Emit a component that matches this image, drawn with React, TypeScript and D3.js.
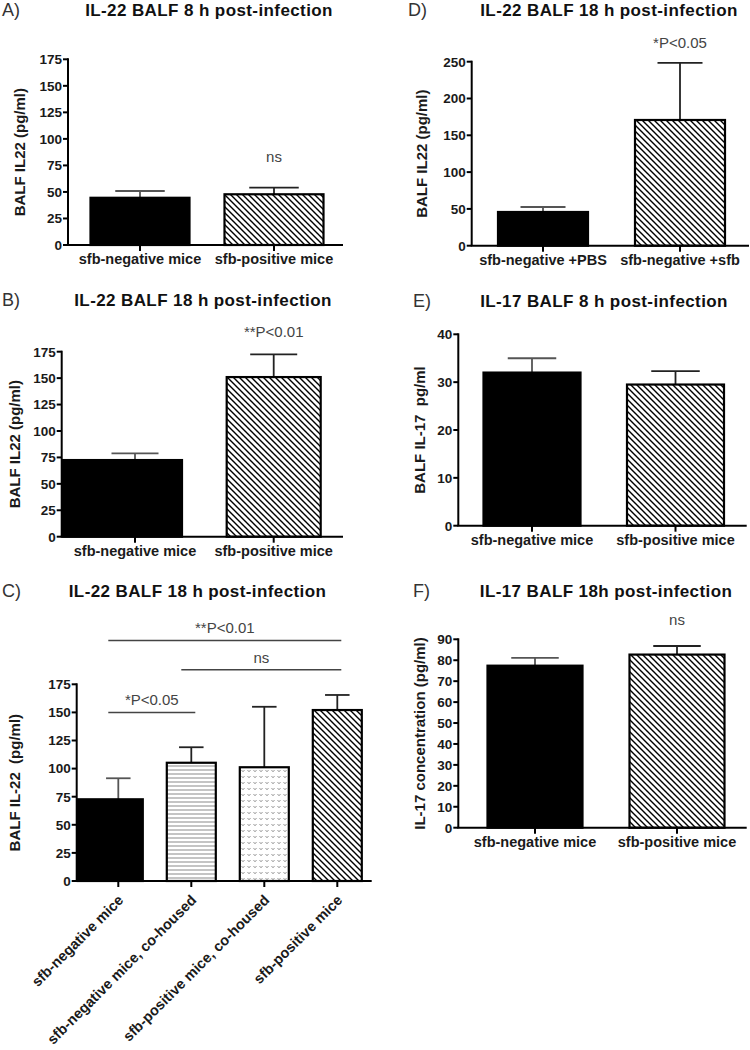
import React from "react";
import * as d3 from "d3";

const FONT = "'Liberation Sans', Arial, Helvetica, sans-serif";

// ---------- DATA ----------
const aCategories = ["sfb-negative mice", "sfb-positive mice"];
const aMeans = [44.5, 47.8];
const aSems = [6.4, 6.2];
const aFills = ["solid", "diag"];
const aTicks = [0, 25, 50, 75, 100, 125, 150, 175];
const aNotes = [{ from: 1, to: 1, value: 78, text: "ns" }];

const bCategories = ["sfb-negative mice", "sfb-positive mice"];
const bMeans = [72.5, 151];
const bSems = [6.4, 21.5];
const bFills = ["solid", "diag"];
const bTicks = [0, 25, 50, 75, 100, 125, 150, 175];
const bNotes = [{ from: 1, to: 1, value: 189, text: "**P<0.01" }];

const cCategories = [
  "sfb-negative mice",
  "sfb-negative mice, co-housed",
  "sfb-positive mice, co-housed",
  "sfb-positive mice",
];
const cMeans = [72.7, 105.2, 101.2, 152.1];
const cSems = [18.7, 13.8, 53.8, 13.4];
const cFills = ["solid", "hlines", "dots", "diag"];
const cTicks = [0, 25, 50, 75, 100, 125, 150, 175];
const cNotes = [
  { from: 0, to: 3, value: 214, text: "**P<0.01" },
  { from: 1, to: 3, value: 188, text: "ns" },
  { from: 0, to: 1, value: 150, text: "*P<0.05" },
];

const dCategories = ["sfb-negative +PBS", "sfb-negative +sfb"];
const dMeans = [45.8, 170.8];
const dSems = [6.8, 77.5];
const dFills = ["solid", "diag"];
const dTicks = [0, 50, 100, 150, 200, 250];
const dNotes = [{ from: 1, to: 1, value: 268, text: "*P<0.05" }];

const eCategories = ["sfb-negative mice", "sfb-positive mice"];
const eMeans = [32.0, 29.5];
const eSems = [3.0, 2.8];
const eFills = ["solid", "diag"];
const eTicks = [0, 10, 20, 30, 40];
const eNotes: any[] = [];

const fCategories = ["sfb-negative mice", "sfb-positive mice"];
const fMeans = [77.4, 82.7];
const fSems = [3.7, 4.1];
const fFills = ["solid", "diag"];
const fTicks = [0, 10, 20, 30, 40, 50, 60, 70, 80, 90];
const fNotes = [{ from: 1, to: 1, value: 97, text: "ns" }];

// ---------- LAYOUT ----------
const panels = [
  {
    tag: "A)", title: "IL-22 BALF 8 h post-infection", yLabel: "BALF IL22 (pg/ml)",
    categories: aCategories, means: aMeans, sems: aSems, fills: aFills, ticks: aTicks, notes: aNotes,
    frame: { axisX: 68, axisEnd: 343, top: 59.3, bottom: 245, c0: 140, c1: 274, bw: 99, firstToAxis: false,
      tagX: 2, titleX: 209, headerY: 16, yLabelX: 20, rotate: false },
  },
  {
    tag: "B)", title: "IL-22 BALF 18 h post-infection", yLabel: "BALF IL22 (pg/ml)",
    categories: bCategories, means: bMeans, sems: bSems, fills: bFills, ticks: bTicks, notes: bNotes,
    frame: { axisX: 61.7, axisEnd: 343, top: 351.7, bottom: 536.7, c0: 135, c1: 273.7, bw: 94, firstToAxis: true,
      tagX: 2, titleX: 203, headerY: 306, yLabelX: 15, rotate: false },
  },
  {
    tag: "C)", title: "IL-22 BALF 18 h post-infection", yLabel: "BALF IL-22  (pg/ml)",
    categories: cCategories, means: cMeans, sems: cSems, fills: cFills, ticks: cTicks, notes: cNotes,
    frame: { axisX: 76.7, axisEnd: 371.7, top: 684.3, bottom: 881, c0: 118.3, c1: 337.3, bw: 49, firstToAxis: true,
      tagX: 2, titleX: 197.5, headerY: 597, yLabelX: 15, rotate: true },
  },
  {
    tag: "D)", title: "IL-22 BALF 18 h post-infection", yLabel: "BALF IL22 (pg/ml)",
    categories: dCategories, means: dMeans, sems: dSems, fills: dFills, ticks: dTicks, notes: dNotes,
    frame: { axisX: 471.7, axisEnd: 749, top: 61.7, bottom: 245.7, c0: 543, c1: 680, bw: 90, firstToAxis: false,
      tagX: 408, titleX: 609, headerY: 16, yLabelX: 421.7, rotate: false },
  },
  {
    tag: "E)", title: "IL-17 BALF 8 h post-infection", yLabel: "BALF IL-17  pg/ml",
    categories: eCategories, means: eMeans, sems: eSems, fills: eFills, ticks: eTicks, notes: eNotes,
    frame: { axisX: 458.3, axisEnd: 746.7, top: 334.3, bottom: 525.7, c0: 532, c1: 675.5, bw: 97, firstToAxis: false,
      tagX: 413, titleX: 604, headerY: 307, yLabelX: 420, rotate: false },
  },
  {
    tag: "F)", title: "IL-17 BALF 18h post-infection", yLabel: "IL-17 concentration (pg/ml)",
    categories: fCategories, means: fMeans, sems: fSems, fills: fFills, ticks: fTicks, notes: fNotes,
    frame: { axisX: 458.3, axisEnd: 746.7, top: 639.3, bottom: 827.7, c0: 535, c1: 677, bw: 95, firstToAxis: false,
      tagX: 413, titleX: 606, headerY: 597, yLabelX: 420, rotate: false },
  },
];

const fillFor = (f: string) =>
  f === "solid" ? "#000" : f === "diag" ? "url(#pDiag)" : f === "hlines" ? "url(#pH)" : "url(#pDots)";

function Panel({ p }: { p: any }) {
  const fr = p.frame;
  const yMax = p.ticks[p.ticks.length - 1];
  const y = d3.scaleLinear().domain([0, yMax]).range([fr.bottom, fr.top]);
  const x = d3.scalePoint<string>().domain(p.categories).range([fr.c0, fr.c1]);
  const tickColor = "#1a1a1a";
  return (
    <g fontFamily={FONT}>
      <text x={fr.tagX} y={fr.headerY} fontSize={18} fill="#333">{p.tag}</text>
      <text x={fr.titleX} y={fr.headerY} fontSize={17} fontWeight="bold" textAnchor="middle" letterSpacing={0.4} fill="#111">
        {p.title}
      </text>
      <text
        transform={`translate(${fr.yLabelX},${(fr.top + fr.bottom) / 2}) rotate(-90)`}
        textAnchor="middle" dy="0.35em" fontSize={15} fontWeight="bold" fill={tickColor}
        style={{ whiteSpace: "pre" }}
      >
        {p.yLabel}
      </text>
      {/* bars */}
      {p.categories.map((c: string, i: number) => {
        const cx = x(c)!;
        const left = i === 0 && fr.firstToAxis ? fr.axisX + 1 : cx - fr.bw / 2;
        const right = cx + fr.bw / 2;
        const top = y(p.means[i]);
        const errTop = y(p.means[i] + p.sems[i]);
        const cap = fr.bw / 4;
        const ec = p.fills[i] === "solid" ? "#555" : "#222";
        return (
          <g key={c}>
            <line x1={cx} x2={cx} y1={top} y2={errTop} stroke={ec} strokeWidth={1.8} />
            <line x1={cx - cap} x2={cx + cap} y1={errTop} y2={errTop} stroke={ec} strokeWidth={1.8} />
            <rect x={left} y={top} width={right - left} height={fr.bottom - top}
              fill={fillFor(p.fills[i])} stroke="#000" strokeWidth={2.2} />
          </g>
        );
      })}
      {/* y axis */}
      <line x1={fr.axisX} x2={fr.axisX} y1={fr.top - 1} y2={fr.bottom} stroke="#000" strokeWidth={2} />
      {p.ticks.map((t: number) => (
        <g key={t}>
          <line x1={fr.axisX - 5} x2={fr.axisX} y1={y(t)} y2={y(t)} stroke="#000" strokeWidth={2} />
          <text x={fr.axisX - 6} y={y(t)} dy="0.36em" textAnchor="end" fontSize={13.5} fontWeight="bold" fill={tickColor}>
            {t}
          </text>
        </g>
      ))}
      {/* x axis */}
      <line x1={fr.axisX - 1} x2={fr.axisEnd} y1={fr.bottom} y2={fr.bottom} stroke="#000" strokeWidth={2} />
      {p.categories.map((c: string) => (
        <g key={"t" + c}>
          <line x1={x(c)} x2={x(c)} y1={fr.bottom} y2={fr.bottom + 6} stroke="#000" strokeWidth={2} />
          {fr.rotate ? (
            <text transform={`translate(${x(c)! + 6},${fr.bottom + 20}) rotate(-45)`} textAnchor="end"
              fontSize={14.5} fontWeight="bold" fill={tickColor}>{c}</text>
          ) : (
            <text x={x(c)} y={fr.bottom + 19} textAnchor="middle" fontSize={14.5} fontWeight="bold" fill={tickColor}>{c}</text>
          )}
        </g>
      ))}
      {/* annotations */}
      {p.notes.map((n: any, k: number) => {
        const xa = x(p.categories[n.from])!;
        const xb = x(p.categories[n.to])!;
        const yy = y(n.value);
        if (n.from === n.to) {
          return (
            <text key={k} x={xa} y={yy} textAnchor="middle" fontSize={15} fill="#444">{n.text}</text>
          );
        }
        return (
          <g key={k}>
            <line x1={xa - 10} x2={xb + 4} y1={yy} y2={yy} stroke="#444" strokeWidth={1.5} />
            <text x={(xa - 10 + xb + 4) / 2} y={yy - 7} textAnchor="middle" fontSize={15} fill="#444">{n.text}</text>
          </g>
        );
      })}
    </g>
  );
}

export default function App() {
  return (
    <svg width={750} height={1050} style={{ position: "absolute", left: 0, top: 0, background: "#fff" }}>
      <defs>
        <pattern id="pDiag" patternUnits="userSpaceOnUse" width={6} height={6}>
          <rect width={6} height={6} fill="#fff" />
          <path d="M-1,-1 L7,7 M-1,5 L1,7 M5,-1 L7,1" stroke="#000" strokeWidth={1.4} />
        </pattern>
        <pattern id="pH" patternUnits="userSpaceOnUse" width={6} height={4}>
          <rect width={6} height={4} fill="#fff" />
          <line x1={0} x2={6} y1={2} y2={2} stroke="#8a8a8a" strokeWidth={1} />
        </pattern>
        <pattern id="pDots" patternUnits="userSpaceOnUse" width={6} height={6}>
          <rect width={6} height={6} fill="#fff" />
          <path d="M1.5,2 L3,3.8 L4.5,2" stroke="#999" strokeWidth={1} fill="none" />
        </pattern>
      </defs>
      <rect width={750} height={1050} fill="#fff" />
      {panels.map((p) => (
        <Panel key={p.tag} p={p} />
      ))}
    </svg>
  );
}
